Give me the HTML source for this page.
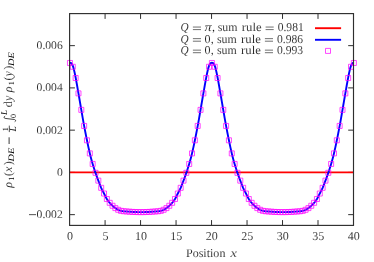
<!DOCTYPE html>
<html><head><meta charset="utf-8"><title>plot</title>
<style>html,body{margin:0;padding:0;background:#fff;}body{width:374px;height:262px;overflow:hidden;position:relative;font-family:"Liberation Serif",serif;}</style>
</head><body>
<svg width="374" height="262" viewBox="0 0 374 262" style="position:absolute;left:0;top:0;font-family:'Liberation Serif',serif;will-change:transform;text-rendering:geometricPrecision" fill="#181818">
<rect x="0" y="0" width="374" height="262" fill="#fff"/>
<path d="M105.09 225.4V220.1M105.09 13.6V18.9M140.57 225.4V220.1M140.57 13.6V18.9M176.06 225.4V220.1M176.06 13.6V18.9M211.55 225.4V220.1M211.55 13.6V18.9M247.04 225.4V220.1M247.04 13.6V18.9M282.52 225.4V220.1M282.52 13.6V18.9M318.01 225.4V220.1M318.01 13.6V18.9M69.6 214.65H74.89999999999999M353.5 214.65H348.2M69.6 172.40H74.89999999999999M353.5 172.40H348.2M69.6 130.15H74.89999999999999M353.5 130.15H348.2M69.6 87.90H74.89999999999999M353.5 87.90H348.2M69.6 45.65H74.89999999999999M353.5 45.65H348.2" stroke="#2e2e2e" stroke-width="1" fill="none"/>
<path d="M69.6 172.40H353.5" stroke="#f00" stroke-width="1.9" fill="none"/>
<path d="M69.95 62.76L70.66 62.88L71.37 63.32L72.08 64.22L72.79 65.72L73.50 67.91L74.21 70.71L74.92 73.97L75.63 77.55L76.34 81.34L77.05 85.27L77.76 89.30L78.47 93.39L79.18 97.50L79.89 101.62L80.60 105.75L81.31 109.87L82.02 113.98L82.73 118.05L83.44 122.05L84.14 125.93L84.85 129.67L85.56 133.29L86.27 136.82L86.98 140.29L87.69 143.72L88.40 147.08L89.11 150.31L89.82 153.39L90.53 156.27L91.24 158.96L91.95 161.52L92.66 163.95L93.37 166.29L94.08 168.55L94.79 170.73L95.50 172.82L96.21 174.84L96.92 176.81L97.63 178.73L98.34 180.64L99.05 182.53L99.76 184.39L100.47 186.16L101.18 187.82L101.89 189.34L102.60 190.77L103.31 192.14L104.02 193.53L104.73 194.95L105.44 196.38L106.15 197.75L106.86 199.02L107.57 200.13L108.28 201.11L108.99 202.00L109.70 202.82L110.41 203.61L111.12 204.37L111.83 205.09L112.53 205.78L113.24 206.42L113.95 207.02L114.66 207.58L115.37 208.10L116.08 208.58L116.79 209.02L117.50 209.43L118.21 209.79L118.92 210.12L119.63 210.40L120.34 210.65L121.05 210.85L121.76 211.00L122.47 211.11L123.18 211.20L123.89 211.27L124.60 211.33L125.31 211.38L126.02 211.43L126.73 211.48L127.44 211.53L128.15 211.58L128.86 211.64L129.57 211.69L130.28 211.75L130.99 211.81L131.70 211.86L132.41 211.90L133.12 211.94L133.83 211.96L134.54 211.99L135.25 212.01L135.96 212.04L136.67 212.07L137.38 212.10L138.09 212.12L138.80 212.12L139.51 212.12L140.22 212.12L140.92 212.12L141.63 212.12L142.34 212.12L143.05 212.12L143.76 212.12L144.47 212.10L145.18 212.07L145.89 212.04L146.60 212.01L147.31 211.99L148.02 211.96L148.73 211.94L149.44 211.90L150.15 211.86L150.86 211.81L151.57 211.75L152.28 211.69L152.99 211.64L153.70 211.58L154.41 211.53L155.12 211.48L155.83 211.43L156.54 211.38L157.25 211.33L157.96 211.27L158.67 211.20L159.38 211.11L160.09 211.00L160.80 210.85L161.51 210.65L162.22 210.40L162.93 210.12L163.64 209.79L164.35 209.43L165.06 209.02L165.77 208.58L166.48 208.10L167.19 207.58L167.90 207.02L168.61 206.42L169.31 205.78L170.02 205.09L170.73 204.37L171.44 203.61L172.15 202.82L172.86 202.00L173.57 201.11L174.28 200.13L174.99 199.02L175.70 197.75L176.41 196.38L177.12 194.95L177.83 193.53L178.54 192.14L179.25 190.77L179.96 189.34L180.67 187.82L181.38 186.16L182.09 184.39L182.80 182.53L183.51 180.64L184.22 178.73L184.93 176.81L185.64 174.84L186.35 172.82L187.06 170.73L187.77 168.55L188.48 166.29L189.19 163.95L189.90 161.52L190.61 158.96L191.32 156.27L192.03 153.39L192.74 150.31L193.45 147.08L194.16 143.72L194.87 140.29L195.58 136.82L196.29 133.29L197.00 129.67L197.70 125.93L198.41 122.05L199.12 118.05L199.83 113.98L200.54 109.87L201.25 105.75L201.96 101.62L202.67 97.50L203.38 93.39L204.09 89.30L204.80 85.27L205.51 81.34L206.22 77.55L206.93 73.97L207.64 70.71L208.35 67.91L209.06 65.72L209.77 64.22L210.48 63.32L211.19 62.88L211.90 62.76L212.61 62.88L213.32 63.32L214.03 64.22L214.74 65.72L215.45 67.91L216.16 70.71L216.87 73.97L217.58 77.55L218.29 81.34L219.00 85.27L219.71 89.30L220.42 93.39L221.13 97.50L221.84 101.62L222.55 105.75L223.26 109.87L223.97 113.98L224.68 118.05L225.39 122.05L226.09 125.93L226.80 129.67L227.51 133.29L228.22 136.82L228.93 140.29L229.64 143.72L230.35 147.08L231.06 150.31L231.77 153.39L232.48 156.27L233.19 158.96L233.90 161.52L234.61 163.95L235.32 166.29L236.03 168.55L236.74 170.73L237.45 172.82L238.16 174.84L238.87 176.81L239.58 178.73L240.29 180.64L241.00 182.53L241.71 184.39L242.42 186.16L243.13 187.82L243.84 189.34L244.55 190.77L245.26 192.14L245.97 193.53L246.68 194.95L247.39 196.38L248.10 197.75L248.81 199.02L249.52 200.13L250.23 201.11L250.94 202.00L251.65 202.82L252.36 203.61L253.07 204.37L253.78 205.09L254.48 205.78L255.19 206.42L255.90 207.02L256.61 207.58L257.32 208.10L258.03 208.58L258.74 209.02L259.45 209.43L260.16 209.79L260.87 210.12L261.58 210.40L262.29 210.65L263.00 210.85L263.71 211.00L264.42 211.11L265.13 211.20L265.84 211.27L266.55 211.33L267.26 211.38L267.97 211.43L268.68 211.48L269.39 211.53L270.10 211.58L270.81 211.64L271.52 211.69L272.23 211.75L272.94 211.81L273.65 211.86L274.36 211.90L275.07 211.94L275.78 211.96L276.49 211.99L277.20 212.01L277.91 212.04L278.62 212.07L279.33 212.10L280.04 212.12L280.75 212.12L281.46 212.12L282.17 212.12L282.88 212.12L283.58 212.12L284.29 212.12L285.00 212.12L285.71 212.12L286.42 212.10L287.13 212.07L287.84 212.04L288.55 212.01L289.26 211.99L289.97 211.96L290.68 211.94L291.39 211.90L292.10 211.86L292.81 211.81L293.52 211.75L294.23 211.69L294.94 211.64L295.65 211.58L296.36 211.53L297.07 211.48L297.78 211.43L298.49 211.38L299.20 211.33L299.91 211.27L300.62 211.20L301.33 211.11L302.04 211.00L302.75 210.85L303.46 210.65L304.17 210.40L304.88 210.12L305.59 209.79L306.30 209.43L307.01 209.02L307.72 208.58L308.43 208.10L309.14 207.58L309.85 207.02L310.56 206.42L311.26 205.78L311.97 205.09L312.68 204.37L313.39 203.61L314.10 202.82L314.81 202.00L315.52 201.11L316.23 200.13L316.94 199.02L317.65 197.75L318.36 196.38L319.07 194.95L319.78 193.53L320.49 192.14L321.20 190.77L321.91 189.34L322.62 187.82L323.33 186.16L324.04 184.39L324.75 182.53L325.46 180.64L326.17 178.73L326.88 176.81L327.59 174.84L328.30 172.82L329.01 170.73L329.72 168.55L330.43 166.29L331.14 163.95L331.85 161.52L332.56 158.96L333.27 156.27L333.98 153.39L334.69 150.31L335.40 147.08L336.11 143.72L336.82 140.29L337.53 136.82L338.24 133.29L338.95 129.67L339.65 125.93L340.36 122.05L341.07 118.05L341.78 113.98L342.49 109.87L343.20 105.75L343.91 101.62L344.62 97.50L345.33 93.39L346.04 89.30L346.75 85.27L347.46 81.34L348.17 77.55L348.88 73.97L349.59 70.71L350.30 67.91L351.01 65.72L351.72 64.22L352.43 63.32L353.14 62.88L353.85 62.76" stroke="#00f" stroke-width="1.9" fill="none" stroke-linejoin="round"/>
<path d="M67.45 60.47h5.0v5.0h-5.0zM70.29 64.28h5.0v5.0h-5.0zM73.13 75.47h5.0v5.0h-5.0zM75.97 90.89h5.0v5.0h-5.0zM78.81 107.37h5.0v5.0h-5.0zM81.64 123.43h5.0v5.0h-5.0zM84.48 137.79h5.0v5.0h-5.0zM87.32 150.89h5.0v5.0h-5.0zM90.16 161.45h5.0v5.0h-5.0zM93.00 170.32h5.0v5.0h-5.0zM95.84 178.14h5.0v5.0h-5.0zM98.68 185.32h5.0v5.0h-5.0zM101.52 191.03h5.0v5.0h-5.0zM104.36 196.52h5.0v5.0h-5.0zM107.20 200.32h5.0v5.0h-5.0zM110.03 203.28h5.0v5.0h-5.0zM112.87 205.60h5.0v5.0h-5.0zM115.71 207.29h5.0v5.0h-5.0zM118.55 208.35h5.0v5.0h-5.0zM121.39 208.77h5.0v5.0h-5.0zM124.23 208.98h5.0v5.0h-5.0zM127.07 209.19h5.0v5.0h-5.0zM129.91 209.40h5.0v5.0h-5.0zM132.75 209.51h5.0v5.0h-5.0zM135.59 209.62h5.0v5.0h-5.0zM138.42 209.62h5.0v5.0h-5.0zM141.26 209.62h5.0v5.0h-5.0zM144.10 209.51h5.0v5.0h-5.0zM146.94 209.40h5.0v5.0h-5.0zM149.78 209.19h5.0v5.0h-5.0zM152.62 208.98h5.0v5.0h-5.0zM155.46 208.77h5.0v5.0h-5.0zM158.30 208.35h5.0v5.0h-5.0zM161.14 207.29h5.0v5.0h-5.0zM163.98 205.60h5.0v5.0h-5.0zM166.81 203.28h5.0v5.0h-5.0zM169.65 200.32h5.0v5.0h-5.0zM172.49 196.52h5.0v5.0h-5.0zM175.33 191.03h5.0v5.0h-5.0zM178.17 185.32h5.0v5.0h-5.0zM181.01 178.14h5.0v5.0h-5.0zM183.85 170.32h5.0v5.0h-5.0zM186.69 161.45h5.0v5.0h-5.0zM189.53 150.89h5.0v5.0h-5.0zM192.37 137.79h5.0v5.0h-5.0zM195.20 123.43h5.0v5.0h-5.0zM198.04 107.37h5.0v5.0h-5.0zM200.88 90.89h5.0v5.0h-5.0zM203.72 75.47h5.0v5.0h-5.0zM206.56 64.28h5.0v5.0h-5.0zM209.40 60.47h5.0v5.0h-5.0zM212.24 64.28h5.0v5.0h-5.0zM215.08 75.47h5.0v5.0h-5.0zM217.92 90.89h5.0v5.0h-5.0zM220.76 107.37h5.0v5.0h-5.0zM223.59 123.43h5.0v5.0h-5.0zM226.43 137.79h5.0v5.0h-5.0zM229.27 150.89h5.0v5.0h-5.0zM232.11 161.45h5.0v5.0h-5.0zM234.95 170.32h5.0v5.0h-5.0zM237.79 178.14h5.0v5.0h-5.0zM240.63 185.32h5.0v5.0h-5.0zM243.47 191.03h5.0v5.0h-5.0zM246.31 196.52h5.0v5.0h-5.0zM249.15 200.32h5.0v5.0h-5.0zM251.98 203.28h5.0v5.0h-5.0zM254.82 205.60h5.0v5.0h-5.0zM257.66 207.29h5.0v5.0h-5.0zM260.50 208.35h5.0v5.0h-5.0zM263.34 208.77h5.0v5.0h-5.0zM266.18 208.98h5.0v5.0h-5.0zM269.02 209.19h5.0v5.0h-5.0zM271.86 209.40h5.0v5.0h-5.0zM274.70 209.51h5.0v5.0h-5.0zM277.54 209.62h5.0v5.0h-5.0zM280.38 209.62h5.0v5.0h-5.0zM283.21 209.62h5.0v5.0h-5.0zM286.05 209.51h5.0v5.0h-5.0zM288.89 209.40h5.0v5.0h-5.0zM291.73 209.19h5.0v5.0h-5.0zM294.57 208.98h5.0v5.0h-5.0zM297.41 208.77h5.0v5.0h-5.0zM300.25 208.35h5.0v5.0h-5.0zM303.09 207.29h5.0v5.0h-5.0zM305.93 205.60h5.0v5.0h-5.0zM308.76 203.28h5.0v5.0h-5.0zM311.60 200.32h5.0v5.0h-5.0zM314.44 196.52h5.0v5.0h-5.0zM317.28 191.03h5.0v5.0h-5.0zM320.12 185.32h5.0v5.0h-5.0zM322.96 178.14h5.0v5.0h-5.0zM325.80 170.32h5.0v5.0h-5.0zM328.64 161.45h5.0v5.0h-5.0zM331.48 150.89h5.0v5.0h-5.0zM334.32 137.79h5.0v5.0h-5.0zM337.15 123.43h5.0v5.0h-5.0zM339.99 107.37h5.0v5.0h-5.0zM342.83 90.89h5.0v5.0h-5.0zM345.67 75.47h5.0v5.0h-5.0zM348.51 64.28h5.0v5.0h-5.0zM351.35 60.47h5.0v5.0h-5.0z" stroke="#f0f" stroke-width="0.72" fill="none"/>
<rect x="69.6" y="13.6" width="283.90" height="211.80" stroke="#2e2e2e" stroke-width="1.15" fill="none"/>
<path d="M315 28.2H341.1" stroke="#f00" stroke-width="1.9"/>
<path d="M315 39.8H341.1" stroke="#00f" stroke-width="1.9"/>
<path d="M325.50 48.40h5.0v5.0h-5.0z" stroke="#f0f" stroke-width="0.72" fill="none"/>
<circle cx="328" cy="50.9" r="0.4" fill="#f0f" opacity="0.55"/>
<text x="180.5" y="31" font-size="12" font-style="italic" textLength="8.1" lengthAdjust="spacingAndGlyphs" stroke="#fff" stroke-width="0.1">Q</text><path d="M192.9 27.05h8.1M192.9 29.60h8.1" stroke="#333" stroke-width="0.7" fill="none"/><path d="M265.59999999999997 27.05h8.1M265.59999999999997 29.60h8.1" stroke="#333" stroke-width="0.7" fill="none"/><text x="204.4" y="31" font-size="12" font-style="italic" textLength="7.2" lengthAdjust="spacingAndGlyphs" stroke="#fff" stroke-width="0.1">π</text><text x="212.1" y="31" font-size="12" stroke="#fff" stroke-width="0.1">,</text><text x="217.7" y="31" font-size="12" textLength="19.8" lengthAdjust="spacingAndGlyphs" stroke="#fff" stroke-width="0.1">sum</text><text x="241.79999999999998" y="31" font-size="12" textLength="19.8" lengthAdjust="spacingAndGlyphs" stroke="#fff" stroke-width="0.1">rule</text><text x="277.7" y="31" font-size="12" textLength="26.0" lengthAdjust="spacingAndGlyphs" stroke="#fff" stroke-width="0.1">0.981</text>
<text x="180.5" y="42.6" font-size="12" font-style="italic" textLength="8.1" lengthAdjust="spacingAndGlyphs" stroke="#fff" stroke-width="0.1">Q</text><path d="M192.9 38.65h8.1M192.9 41.20h8.1" stroke="#333" stroke-width="0.7" fill="none"/><path d="M264.9 38.65h8.1M264.9 41.20h8.1" stroke="#333" stroke-width="0.7" fill="none"/><text x="204.4" y="42.6" font-size="12" stroke="#fff" stroke-width="0.1">0</text><text x="210.7" y="42.6" font-size="12" stroke="#fff" stroke-width="0.1">,</text><text x="217.0" y="42.6" font-size="12" textLength="19.8" lengthAdjust="spacingAndGlyphs" stroke="#fff" stroke-width="0.1">sum</text><text x="241.1" y="42.6" font-size="12" textLength="19.8" lengthAdjust="spacingAndGlyphs" stroke="#fff" stroke-width="0.1">rule</text><text x="277.0" y="42.6" font-size="12" textLength="26.0" lengthAdjust="spacingAndGlyphs" stroke="#fff" stroke-width="0.1">0.986</text>
<text x="180.5" y="54.1" font-size="12" font-style="italic" textLength="8.1" lengthAdjust="spacingAndGlyphs" stroke="#fff" stroke-width="0.1">Q</text><path d="M192.9 50.15h8.1M192.9 52.70h8.1" stroke="#333" stroke-width="0.7" fill="none"/><path d="M264.9 50.15h8.1M264.9 52.70h8.1" stroke="#333" stroke-width="0.7" fill="none"/><text x="204.4" y="54.1" font-size="12" stroke="#fff" stroke-width="0.1">0</text><text x="210.7" y="54.1" font-size="12" stroke="#fff" stroke-width="0.1">,</text><text x="217.0" y="54.1" font-size="12" textLength="19.8" lengthAdjust="spacingAndGlyphs" stroke="#fff" stroke-width="0.1">sum</text><text x="241.1" y="54.1" font-size="12" textLength="19.8" lengthAdjust="spacingAndGlyphs" stroke="#fff" stroke-width="0.1">rule</text><text x="277.0" y="54.1" font-size="12" textLength="26.0" lengthAdjust="spacingAndGlyphs" stroke="#fff" stroke-width="0.1">0.993</text>
<text x="62.7" y="175.90" font-size="11.6" text-anchor="end" stroke="#fff" stroke-width="0.1">0</text>
<text x="62.7" y="133.65" font-size="11.6" text-anchor="end" stroke="#fff" stroke-width="0.1">0.002</text>
<text x="62.7" y="91.40" font-size="11.6" text-anchor="end" stroke="#fff" stroke-width="0.1">0.004</text>
<text x="62.7" y="49.15" font-size="11.6" text-anchor="end" stroke="#fff" stroke-width="0.1">0.006</text>
<text x="62.7" y="218.15" font-size="11.6" text-anchor="end" stroke="#fff" stroke-width="0.1">0.002</text>
<path d="M29 214.65H36" stroke="#181818" stroke-width="0.75"/>
<text x="69.90" y="239.8" font-size="12" text-anchor="middle" stroke="#fff" stroke-width="0.1">0</text>
<text x="105.39" y="239.8" font-size="12" text-anchor="middle" stroke="#fff" stroke-width="0.1">5</text>
<text x="140.88" y="239.8" font-size="12" text-anchor="middle" stroke="#fff" stroke-width="0.1">10</text>
<text x="176.36" y="239.8" font-size="12" text-anchor="middle" stroke="#fff" stroke-width="0.1">15</text>
<text x="211.85" y="239.8" font-size="12" text-anchor="middle" stroke="#fff" stroke-width="0.1">20</text>
<text x="247.34" y="239.8" font-size="12" text-anchor="middle" stroke="#fff" stroke-width="0.1">25</text>
<text x="282.82" y="239.8" font-size="12" text-anchor="middle" stroke="#fff" stroke-width="0.1">30</text>
<text x="318.31" y="239.8" font-size="12" text-anchor="middle" stroke="#fff" stroke-width="0.1">35</text>
<text x="353.80" y="239.8" font-size="12" text-anchor="middle" stroke="#fff" stroke-width="0.1">40</text>
<text x="186.0" y="257.2" font-size="12" textLength="39.4" lengthAdjust="spacingAndGlyphs" stroke="#fff" stroke-width="0.1">Position</text>
<text x="230.4" y="257.2" font-size="12" font-style="italic" textLength="6.4" lengthAdjust="spacingAndGlyphs" stroke="#fff" stroke-width="0.1">x</text>
<g transform="translate(12.1 187.7) rotate(-90)"><text x="0" y="0" font-size="12" font-style="italic" stroke="#fff" stroke-width="0.1">ρ</text><text x="7.0" y="2.2" font-size="8" stroke="#fff" stroke-width="0" fill="#000">1</text><text x="11.6" y="0" font-size="12" stroke="#fff" stroke-width="0.1">(</text><text x="15.8" y="0" font-size="12" font-style="italic" stroke="#fff" stroke-width="0.1">x</text><text x="22.5" y="0" font-size="12" stroke="#fff" stroke-width="0.1">)</text><text x="26.2" y="2.2" font-size="8.4" font-style="italic" textLength="13.8" lengthAdjust="spacingAndGlyphs" stroke="#fff" stroke-width="0" fill="#000">DE</text><text x="95.5" y="0" font-size="12" font-style="italic" stroke="#fff" stroke-width="0.1">ρ</text><text x="102.5" y="2.2" font-size="8" stroke="#fff" stroke-width="0" fill="#000">1</text><text x="107.1" y="0" font-size="12" stroke="#fff" stroke-width="0.1">(</text><text x="111.3" y="0" font-size="12" font-style="italic" stroke="#fff" stroke-width="0.1">y</text><text x="118.0" y="0" font-size="12" stroke="#fff" stroke-width="0.1">)</text><text x="121.7" y="2.2" font-size="8.4" font-style="italic" textLength="13.8" lengthAdjust="spacingAndGlyphs" stroke="#fff" stroke-width="0" fill="#000">DE</text><path d="M43.7 -3H50.4" stroke="#181818" stroke-width="0.85"/><path d="M55.6 -2.8H62.1" stroke="#181818" stroke-width="0.75"/><text x="58.4" y="-4.6" font-size="8" text-anchor="middle" stroke="#fff" stroke-width="0" fill="#000">1</text><text x="58.9" y="4.2" font-size="9.5" text-anchor="middle" font-style="italic" stroke="#fff" stroke-width="0" fill="#000">L</text><path d="M66.1 3.0 C66.3 3.8 67.9 3.9 68.2 2.3 L69.3 -7.0 C69.5 -8.4 71.2 -8.3 71.5 -7.3" stroke="#181818" stroke-width="0.8" fill="none" stroke-linecap="round"/><text x="69.8" y="3.9" font-size="8" stroke="#fff" stroke-width="0" fill="#000">0</text><text x="72.8" y="-5.1" font-size="9" font-style="italic" stroke="#fff" stroke-width="0" fill="#000">L</text><text x="80.4" y="0" font-size="12" stroke="#fff" stroke-width="0.1">d</text><text x="86.8" y="0" font-size="12" font-style="italic" stroke="#fff" stroke-width="0.1">y</text></g>
</svg>
</body></html>
